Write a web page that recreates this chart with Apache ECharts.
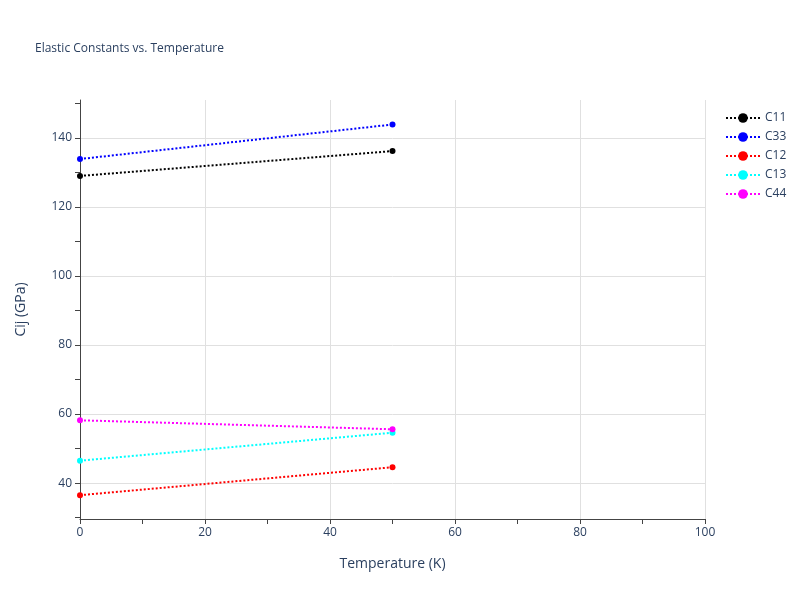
<!DOCTYPE html>
<html><head><meta charset="utf-8">
<script src="https://cdn.jsdelivr.net/npm/echarts@6/dist/echarts.min.js"></script>
<style>html,body{margin:0;padding:0;background:#fff}#c{width:800px;height:600px}</style>
</head><body><div id="c"></div>
<script>
const temps = [0, 50];
const names = ['C11','C33','C12','C13','C44'];
const colors = ['#000000','#0000ff','#ff0000','#00ffff','#ff00ff'];
const C11 = [129.0, 136.2];
const C33 = [133.9, 143.9];
const C12 = [36.5, 44.6];
const C13 = [46.5, 54.6];
const C44 = [58.2, 55.6];
const yTicks = [40, 60, 80, 100, 120, 140];
const vals = [C11, C33, C12, C13, C44];
const font = 'Open Sans, Liberation Sans, sans-serif';
const chart = echarts.init(document.getElementById('c'));
chart.setOption({
  animation:false,
  title:{text:'Elastic Constants vs. Temperature',left:30,top:38,textStyle:{fontFamily:font,fontSize:12,fontWeight:'normal',color:'#2a3f5f'}},
  legend:{orient:'vertical',left:720,top:107,itemGap:7,itemWidth:34,itemHeight:12,
    textStyle:{fontFamily:font,fontSize:12,color:'#2a3f5f'},
    data:names},
  grid:{left:80,right:95,top:100,bottom:81},
  xAxis:{type:'value',min:0,max:100,interval:20,name:'Temperature (K)',nameLocation:'middle',nameGap:38,
    nameTextStyle:{fontFamily:font,fontSize:14,color:'#2a3f5f'},
    axisLine:{show:true,onZero:false,lineStyle:{color:'#444'}},
    axisTick:{show:true,length:5,lineStyle:{color:'#444'}},
    minorTick:{show:true,splitNumber:2,length:5,lineStyle:{color:'#444'}},
    axisLabel:{fontFamily:font,fontSize:12,color:'#2a3f5f'},
    splitLine:{show:true,lineStyle:{color:'#e0e0e0'}}},
  yAxis:{type:'value',min:29.6,max:151,name:'Cij (GPa)',nameLocation:'middle',nameGap:52,
    nameTextStyle:{fontFamily:font,fontSize:14,color:'#2a3f5f'},
    axisLine:{show:true,onZero:false,lineStyle:{color:'#444'}},
    axisTick:{show:true,length:5,customValues:yTicks,lineStyle:{color:'#444'}},
    minorTick:{show:true,splitNumber:2,length:5,lineStyle:{color:'#444'}},
    axisLabel:{fontFamily:font,fontSize:12,color:'#2a3f5f',customValues:yTicks},
    splitLine:{show:true,lineStyle:{color:'#e0e0e0'}}},
  series:names.map((n,i)=>({name:n,type:'line',symbol:'circle',symbolSize:6,
    data:temps.map((t,j)=>[t,vals[i][j]]),
    itemStyle:{color:colors[i]},lineStyle:{color:colors[i],width:2,type:[2,2]}}))
});
</script></body></html>
